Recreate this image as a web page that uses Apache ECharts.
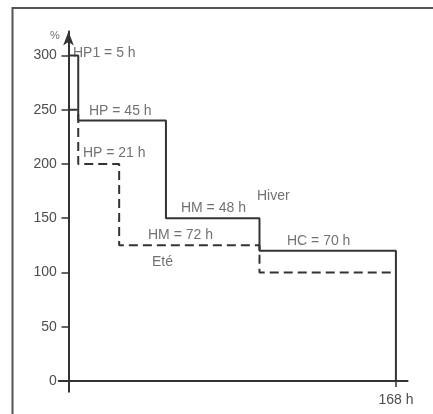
<!DOCTYPE html>
<html><head><meta charset="utf-8">
<script src="https://cdn.jsdelivr.net/npm/echarts@6/dist/echarts.min.js"></script>
<style>html,body{margin:0;padding:0;background:#fff}#c{width:433px;height:414px}</style>
</head><body><div id="c"></div>
<script>
// Data
const totalHours = 168;
const winterHours = [5, 45, 48, 70];
const winterValues = [300, 240, 150, 120];
const summerHours = [5, 21, 72, 70];
const summerValues = [250, 200, 125, 100];
const yTicks = [0, 50, 100, 150, 200, 250, 300];
const xTicks = [168];
const labelTexts = ['%', 'HP1 = 5 h', 'HP = 45 h', 'HP = 21 h', 'HM = 48 h', 'Hiver', 'HM = 72 h', 'Eté', 'HC = 70 h'];
// label anchor positions (data units), separate from values
const labelPos = [[-9.5, 318], [2.3, 302], [10.5, 249], [7.4, 210], [57.7, 159], [96.7, 170.5], [40.8, 134.6], [42.8, 109.7], [112.1, 129]];

function stepPoints(hours, values, closeToZero) {
  const pts = [[0, values[0]]];
  let t = 0;
  for (let i = 1; i < values.length; i++) { t += hours[i - 1]; pts.push([t, values[i]]); }
  pts.push([totalHours, values[values.length - 1]]);
  if (closeToZero) pts.push([totalHours, 0]);
  return pts;
}

const FONT = '"Liberation Sans", Arial, sans-serif';
const TXT = '#4d4d4d';
const LINE = '#333';

const chart = echarts.init(document.getElementById('c'), null, {renderer: 'canvas'});
chart.setOption({
  animation: false,
  grid: {left: 58.75, right: 25.4, top: 31.6, bottom: 22.15},
  xAxis: {
    type: 'value', min: -5, max: 174,
    splitLine: {show: false},
    axisLine: {onZero: true, lineStyle: {color: LINE, width: 2}},
    axisTick: {show: true, customValues: xTicks, length: 6, lineStyle: {color: LINE, width: 1.5}},
    axisLabel: {customValues: xTicks, formatter: '{value} h', color: TXT, fontFamily: FONT, fontSize: 14, margin: 1}
  },
  yAxis: {
    type: 'value', min: -10, max: 322,
    splitLine: {show: false},
    axisLine: {onZero: true, symbol: ['none', 'arrow'], symbolSize: [8, 14], lineStyle: {color: LINE, width: 2}},
    axisTick: {show: true, customValues: yTicks, length: 7, lineStyle: {color: LINE, width: 1.5}},
    axisLabel: {customValues: yTicks, color: TXT, fontFamily: FONT, fontSize: 14, margin: 2}
  },
  graphic: [
    {type: 'polyline', shape: {points: [[12.5, 414], [12.5, 8], [433, 8]]}, style: {stroke: '#555', lineWidth: 2, fill: null}}
  ],
  series: [
    {type: 'line', step: 'end', data: stepPoints(winterHours, winterValues, true), symbol: 'none',
     lineStyle: {color: LINE, width: 2}, z: 3},
    {type: 'line', step: 'end', data: stepPoints(summerHours, summerValues, false), symbol: 'none',
     lineStyle: {color: LINE, width: 2, type: [9, 5]}, z: 2},
    {type: 'scatter', symbolSize: 0, silent: true, clip: false,
     data: labelPos.map((p, i) => ({value: p, name: labelTexts[i],
       label: i === 0 ? {fontSize: 11} : undefined})),
     label: {show: true, position: 'right', distance: 0, formatter: p => p.name,
       color: TXT, fontFamily: FONT, fontSize: 14}}
  ]
});
</script></body></html>
